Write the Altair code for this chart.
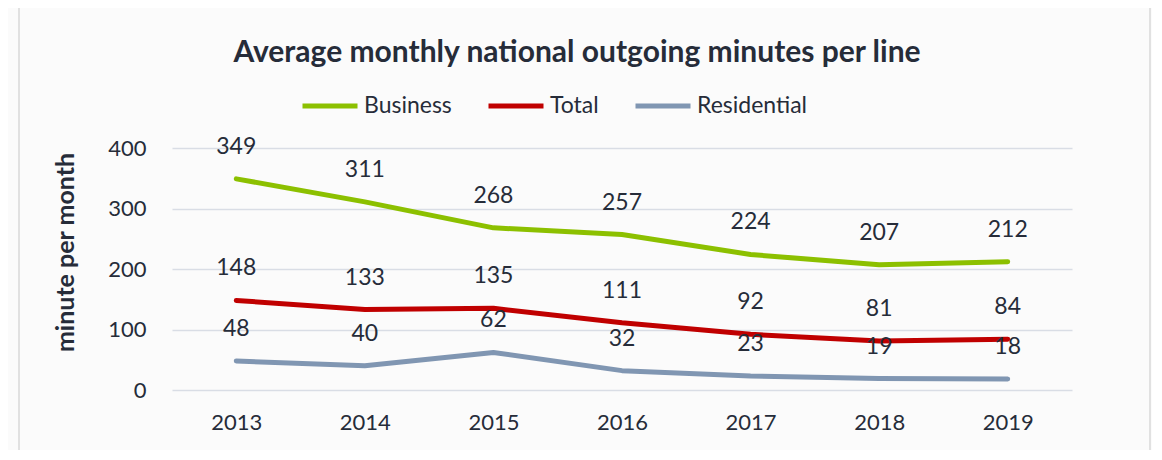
import altair as alt
import pandas as pd

years = ["2013", "2014", "2015", "2016", "2017", "2018", "2019"]
business = [349, 311, 268, 257, 224, 207, 212]
total = [148, 133, 135, 111, 92, 81, 84]
residential = [48, 40, 62, 32, 23, 19, 18]
series_names = ["Business", "Total", "Residential"]
series_colors = ["#8CC000", "#C00000", "#8096B2"]

rows = []
for name, vals in zip(series_names, [business, total, residential]):
    for y, v in zip(years, vals):
        rows.append({"year": y, "value": v, "series": name})
df = pd.DataFrame(rows)

FONT = "Lato"
TXT = "#262C39"

x_enc = alt.X("year:O", sort=years,
              scale=alt.Scale(type="point", padding=0.5),
              axis=alt.Axis(title=None, labelAngle=0, labelFontSize=22, labelColor=TXT,
                            labelFont=FONT, ticks=False, domain=False, labelPadding=22))
y_enc = alt.Y("value:Q", scale=alt.Scale(domain=[0, 400]),
              axis=alt.Axis(title="minute per month", values=[0, 100, 200, 300, 400],
                            labelFontSize=22, labelColor=TXT, labelFont=FONT,
                            ticks=False, domain=False, labelPadding=26,
                            grid=True, gridColor="#D9DDE5", gridWidth=1.5,
                            titleFontSize=25, titleFont=FONT, titleFontWeight="bold",
                            titleColor=TXT, titleX=-107, titleY=104,
                            titleAngle=270, titleBaseline="middle", titleAlign="center"))

color_enc = alt.Color("series:N",
                      scale=alt.Scale(domain=series_names, range=series_colors),
                      legend=alt.Legend(title=None, orient="none", direction="horizontal",
                                        legendX=128, legendY=-72,
                                        symbolType="stroke", symbolSize=3025,
                                        symbolStrokeWidth=5, labelFontSize=23,
                                        labelFont=FONT, labelColor=TXT,
                                        labelOffset=4, columnPadding=26))

frame = alt.Chart(pd.DataFrame({"a": [0]})).mark_rect(
    fill="transparent", stroke="#D9D9D9", strokeWidth=1.5
).encode(x=alt.value(-153), x2=alt.value(978), y=alt.value(-141), y2=alt.value(330))

lines = alt.Chart(df).mark_line(strokeWidth=5, strokeCap="round", strokeJoin="round").encode(
    x=x_enc, y=y_enc, color=color_enc, detail="series:N"
)

labels = alt.Chart(df).mark_text(dy=-32, fontSize=23, font=FONT, color=TXT).encode(
    x=alt.X("year:O", sort=years), y="value:Q", text="value:Q"
)

chart = alt.layer(frame, lines, labels).properties(
    width=900, height=242,
    padding={"left": 164, "top": 140, "right": 80, "bottom": 60},
    autosize=alt.AutoSizeParams(type="none"),
    background="#FBFBFB",
    title=alt.TitleParams("Average monthly national outgoing minutes per line",
                          fontSize=30, font=FONT, fontWeight="bold", color=TXT,
                          anchor="middle", frame="group", dx=-45, offset=-62),
).configure_view(stroke=None)

chart.save("out.html", embed_options={"renderer": "svg", "actions": False})
